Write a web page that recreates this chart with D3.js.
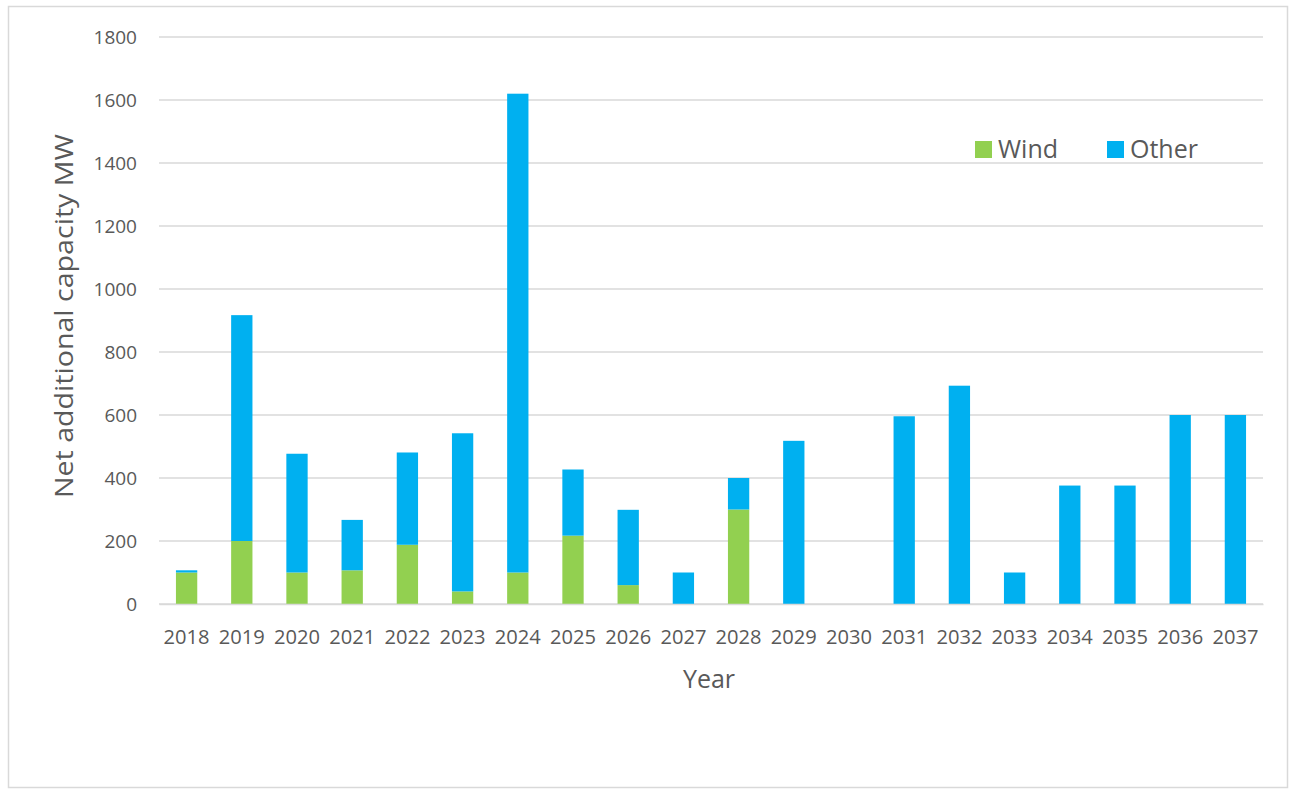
<!DOCTYPE html>
<html>
<head>
<meta charset="utf-8">
<script src="https://cdn.jsdelivr.net/npm/d3@7"></script>
<style>
  html, body { margin: 0; padding: 0; background: #ffffff; }
  svg { display: block; }
  text { font-family: "Open Sans", "DejaVu Sans", sans-serif; fill: #595959; }
</style>
</head>
<body>
<svg id="chart" width="1295" height="794"></svg>
<script>
// Net additional capacity by year, split into wind and other sources (MW)
const years = ["2018","2019","2020","2021","2022","2023","2024","2025","2026","2027",
               "2028","2029","2030","2031","2032","2033","2034","2035","2036","2037"];
const windMW  = [100, 200, 100, 107, 188, 40, 100, 217, 60, 0,
                 300, 0, 0, 0, 0, 0, 0, 0, 0, 0];
const otherMW = [7, 717, 377, 160, 293, 502, 1520, 210, 239, 100,
                 100, 518, 0, 596, 693, 100, 376, 376, 600, 600];
const yTicks = [0, 200, 400, 600, 800, 1000, 1200, 1400, 1600, 1800];
const seriesKeys = ["Wind", "Other"];
const seriesColors = { Wind: "#92d050", Other: "#00b0f0" };

const rows = years.map((y, i) => ({ year: y, Wind: windMW[i], Other: otherMW[i] }));

const svg = d3.select("#chart");

// outer frame
svg.append("rect")
  .attr("x", 8.5).attr("y", 6.5)
  .attr("width", 1279).attr("height", 781)
  .attr("fill", "#ffffff")
  .attr("stroke", "#d9d9d9").attr("stroke-width", 1.5);

const plot = { left: 159, right: 1263, top: 37, bottom: 604 };

const x = d3.scaleBand()
  .domain(years)
  .range([plot.left, plot.right])
  .paddingInner(0.614)
  .paddingOuter(0.307);

const y = d3.scaleLinear()
  .domain([0, 1800])
  .range([plot.bottom, plot.top]);

// horizontal gridlines
svg.append("g")
  .selectAll("line")
  .data(yTicks)
  .join("line")
  .attr("x1", plot.left).attr("x2", plot.right)
  .attr("y1", d => y(d)).attr("y2", d => y(d))
  .attr("stroke", "#d9d9d9")
  .attr("stroke-width", 1.5);

// y axis labels
const yAxis = d3.axisLeft(y)
  .tickValues(yTicks)
  .tickFormat(d3.format("d"))
  .tickSize(0)
  .tickPadding(0);
const gy = svg.append("g")
  .attr("transform", `translate(${137},0)`)
  .call(yAxis);
gy.select(".domain").remove();
gy.selectAll("text")
  .style("font-family", "'Open Sans', sans-serif")
  .style("font-size", "19px")
  .attr("fill", "#595959");

// stacked bars
const stacked = d3.stack().keys(seriesKeys)(rows);
svg.append("g")
  .selectAll("g")
  .data(stacked)
  .join("g")
  .attr("fill", d => seriesColors[d.key])
  .selectAll("rect")
  .data(d => d)
  .join("rect")
  .attr("x", d => x(d.data.year))
  .attr("width", x.bandwidth())
  .attr("y", d => y(d[1]))
  .attr("height", d => y(d[0]) - y(d[1]));

// x axis line and labels
const xAxis = d3.axisBottom(x).tickSize(0).tickPadding(0);
const gx = svg.append("g")
  .attr("transform", `translate(0,${plot.bottom})`)
  .call(xAxis);
gx.select(".domain")
  .attr("stroke", "#d9d9d9")
  .attr("stroke-width", 1.5);
gx.selectAll("text")
  .attr("dy", null)
  .attr("y", 40)
  .attr("textLength", 46)
  .attr("lengthAdjust", "spacingAndGlyphs")
  .style("font-family", "'Open Sans', sans-serif")
  .style("font-size", "20px")
  .attr("fill", "#595959");

// axis titles
svg.append("text")
  .attr("transform", `translate(73,316) rotate(-90)`)
  .attr("text-anchor", "middle")
  .attr("textLength", 364)
  .attr("lengthAdjust", "spacingAndGlyphs")
  .style("font-size", "26px")
  .text("Net additional capacity MW");

svg.append("text")
  .attr("x", 709).attr("y", 688)
  .attr("text-anchor", "middle")
  .style("font-size", "25px")
  .text("Year");

// legend
const legendPos = [{ key: "Wind", x: 975 }, { key: "Other", x: 1107 }];
const lg = svg.append("g");
lg.selectAll("rect")
  .data(legendPos)
  .join("rect")
  .attr("x", d => d.x).attr("y", 141)
  .attr("width", 17).attr("height", 17)
  .attr("fill", d => seriesColors[d.key]);
lg.selectAll("text")
  .data(legendPos)
  .join("text")
  .attr("x", d => d.x + 23).attr("y", 158)
  .style("font-size", "25px")
  .text(d => d.key);
</script>
</body>
</html>
